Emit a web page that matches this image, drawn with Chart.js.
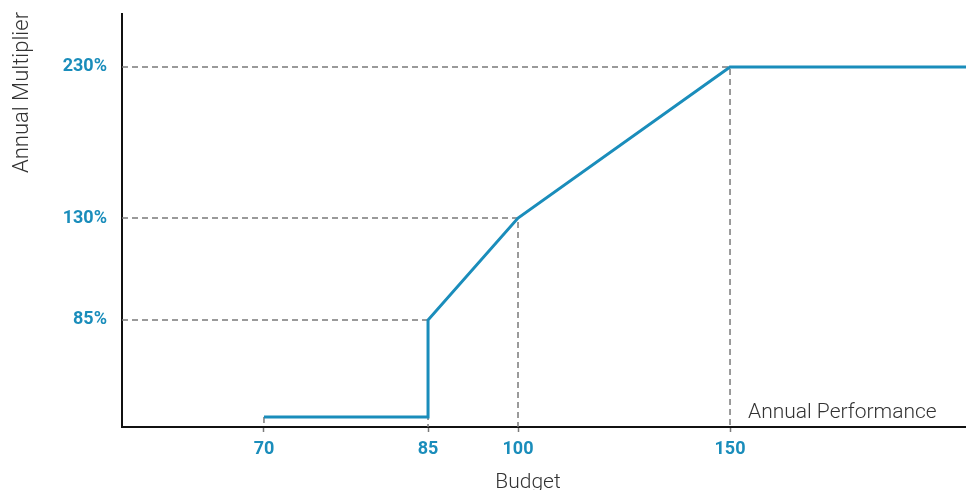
<!DOCTYPE html>
<html>
<head>
<meta charset="utf-8">
<script src="https://cdn.jsdelivr.net/npm/chart.js@4.4.1/dist/chart.umd.min.js"></script>
<style>
  html, body { margin: 0; padding: 0; background: #fff; }
  #wrap { width: 966px; height: 490px; }
</style>
</head>
<body>
<div id="wrap"><canvas id="chart" width="966" height="490"></canvas></div>
<script>
// budget points (x) and multiplier in % (y) along the payout curve
const budget = [70, 85, 85, 100, 150, 200]
const multiplier = [0, 0, 85, 130, 230, 230]

const xTicks = [70, 85, 100, 150]
const yTicks = [85, 130, 230]

// the axes are schematic, not linear: each labelled value sits at a fixed fraction of the axis
const xStops = { values: [50, 70, 85, 100, 150, 200], fracs: [0, 0.1682, 0.3626, 0.4692, 0.7204, 1] }
const yStops = { values: [-10, 0, 85, 130, 230, 265], fracs: [0, 0.0242, 0.2591, 0.506, 0.8717, 1] }

const BLUE = '#1a8dbb'
const DASH = '#7a7a7a'

function interp(v, from, to) {
    for (let i = 0; i < from.length - 1; i++) {
        if (v <= from[i + 1] || i === from.length - 2) {
            const t = (v - from[i]) / (from[i + 1] - from[i])
            return to[i] + t * (to[i + 1] - to[i])
        }
    }
    return to[0]
}

class PiecewiseScale extends Chart.LinearScale {
    stops() { return this.axis === 'x' ? xStops : yStops }
    getPixelForValue(value) {
        const s = this.stops()
        const f = interp(value, s.values, s.fracs)
        return this.isHorizontal() ? this.left + f * this.width : this.bottom - f * this.height
    }
    getValueForPixel(pixel) {
        const s = this.stops()
        const f = this.isHorizontal() ? (pixel - this.left) / this.width : (this.bottom - pixel) / this.height
        return interp(f, s.fracs, s.values)
    }
}
PiecewiseScale.id = 'piecewise'
PiecewiseScale.defaults = Chart.LinearScale.defaults
Chart.register(PiecewiseScale)

const xMin = xStops.values[0]
const yMin = yStops.values[0]

// dashed guides from each labelled point back to both axes
function guide(x, y) {
    return {
        data: [{ x: xMin, y: y }, { x: x, y: y }, { x: x, y: yMin }],
        borderColor: DASH,
        borderWidth: 1.5,
        borderDash: [6, 4],
        pointRadius: 0,
        fill: false,
        order: 1
    }
}

const curve = budget.map((b, i) => ({ x: b, y: multiplier[i] }))

const textLabels = {
    id: 'textLabels',
    afterDraw(chart) {
        const ctx = chart.ctx
        ctx.save()
        ctx.fillStyle = '#333'
        ctx.font = '300 21px Roboto'
        ctx.textBaseline = 'alphabetic'
        ctx.textAlign = 'left'
        ctx.fillText('Annual Performance', 748, 418)
        ctx.textAlign = 'center'
        ctx.fillText('Budget', 528, 488)
        ctx.font = '300 22px Roboto'
        ctx.translate(28, 173)
        ctx.rotate(-Math.PI / 2)
        ctx.textAlign = 'left'
        ctx.fillText('Annual Multiplier', 0, 0)
        ctx.restore()
    }
}

new Chart(document.getElementById('chart'), {
    type: 'line',
    data: {
        datasets: [
            {
                data: curve,
                borderColor: BLUE,
                borderWidth: 3,
                pointRadius: 0,
                fill: false,
                clip: false,
                order: 0
            },
            guide(150, 230),
            guide(100, 130),
            guide(85, 85),
            {
                data: [{ x: 70, y: 0 }, { x: 70, y: yMin }],
                borderColor: DASH, borderWidth: 1.5, borderDash: [6, 4], pointRadius: 0, order: 1
            }
        ]
    },
    options: {
        responsive: false,
        animation: false,
        layout: { padding: { top: 14, right: 0, left: 0, bottom: 0 } },
        plugins: {
            legend: { display: false },
            tooltip: { enabled: false }
        },
        scales: {
            x: {
                type: 'piecewise',
                min: xStops.values[0],
                max: xStops.values[xStops.values.length - 1],
                afterBuildTicks: (s) => { s.ticks = xTicks.map(v => ({ value: v })) },
                afterFit: (s) => { s.height = 63; s.paddingLeft = 0; s.paddingRight = 0 },
                border: { display: true, color: '#111', width: 2 },
                grid: {
                    drawOnChartArea: false,
                    drawTicks: true,
                    tickLength: 6,
                    tickColor: DASH,
                    tickWidth: 1.5,
                    tickBorderDash: [4, 3]
                },
                ticks: {
                    color: BLUE,
                    font: { family: 'Roboto', size: 18, weight: 700 },
                    padding: 6,
                    maxRotation: 0,
                    autoSkip: false,
                    callback: (v) => String(v)
                }
            },
            y: {
                type: 'piecewise',
                min: yStops.values[0],
                max: yStops.values[yStops.values.length - 1],
                afterBuildTicks: (s) => { s.ticks = yTicks.map(v => ({ value: v })) },
                afterFit: (s) => { s.width = 122; s.paddingTop = 0; s.paddingBottom = 0 },
                border: { display: true, color: '#111', width: 2 },
                grid: { display: false, drawTicks: false },
                ticks: {
                    color: BLUE,
                    font: { family: 'Roboto', size: 18, weight: 700 },
                    padding: 15,
                    autoSkip: false,
                    callback: (v) => v + '%'
                }
            }
        }
    },
    plugins: [textLabels]
})
</script>
</body>
</html>
